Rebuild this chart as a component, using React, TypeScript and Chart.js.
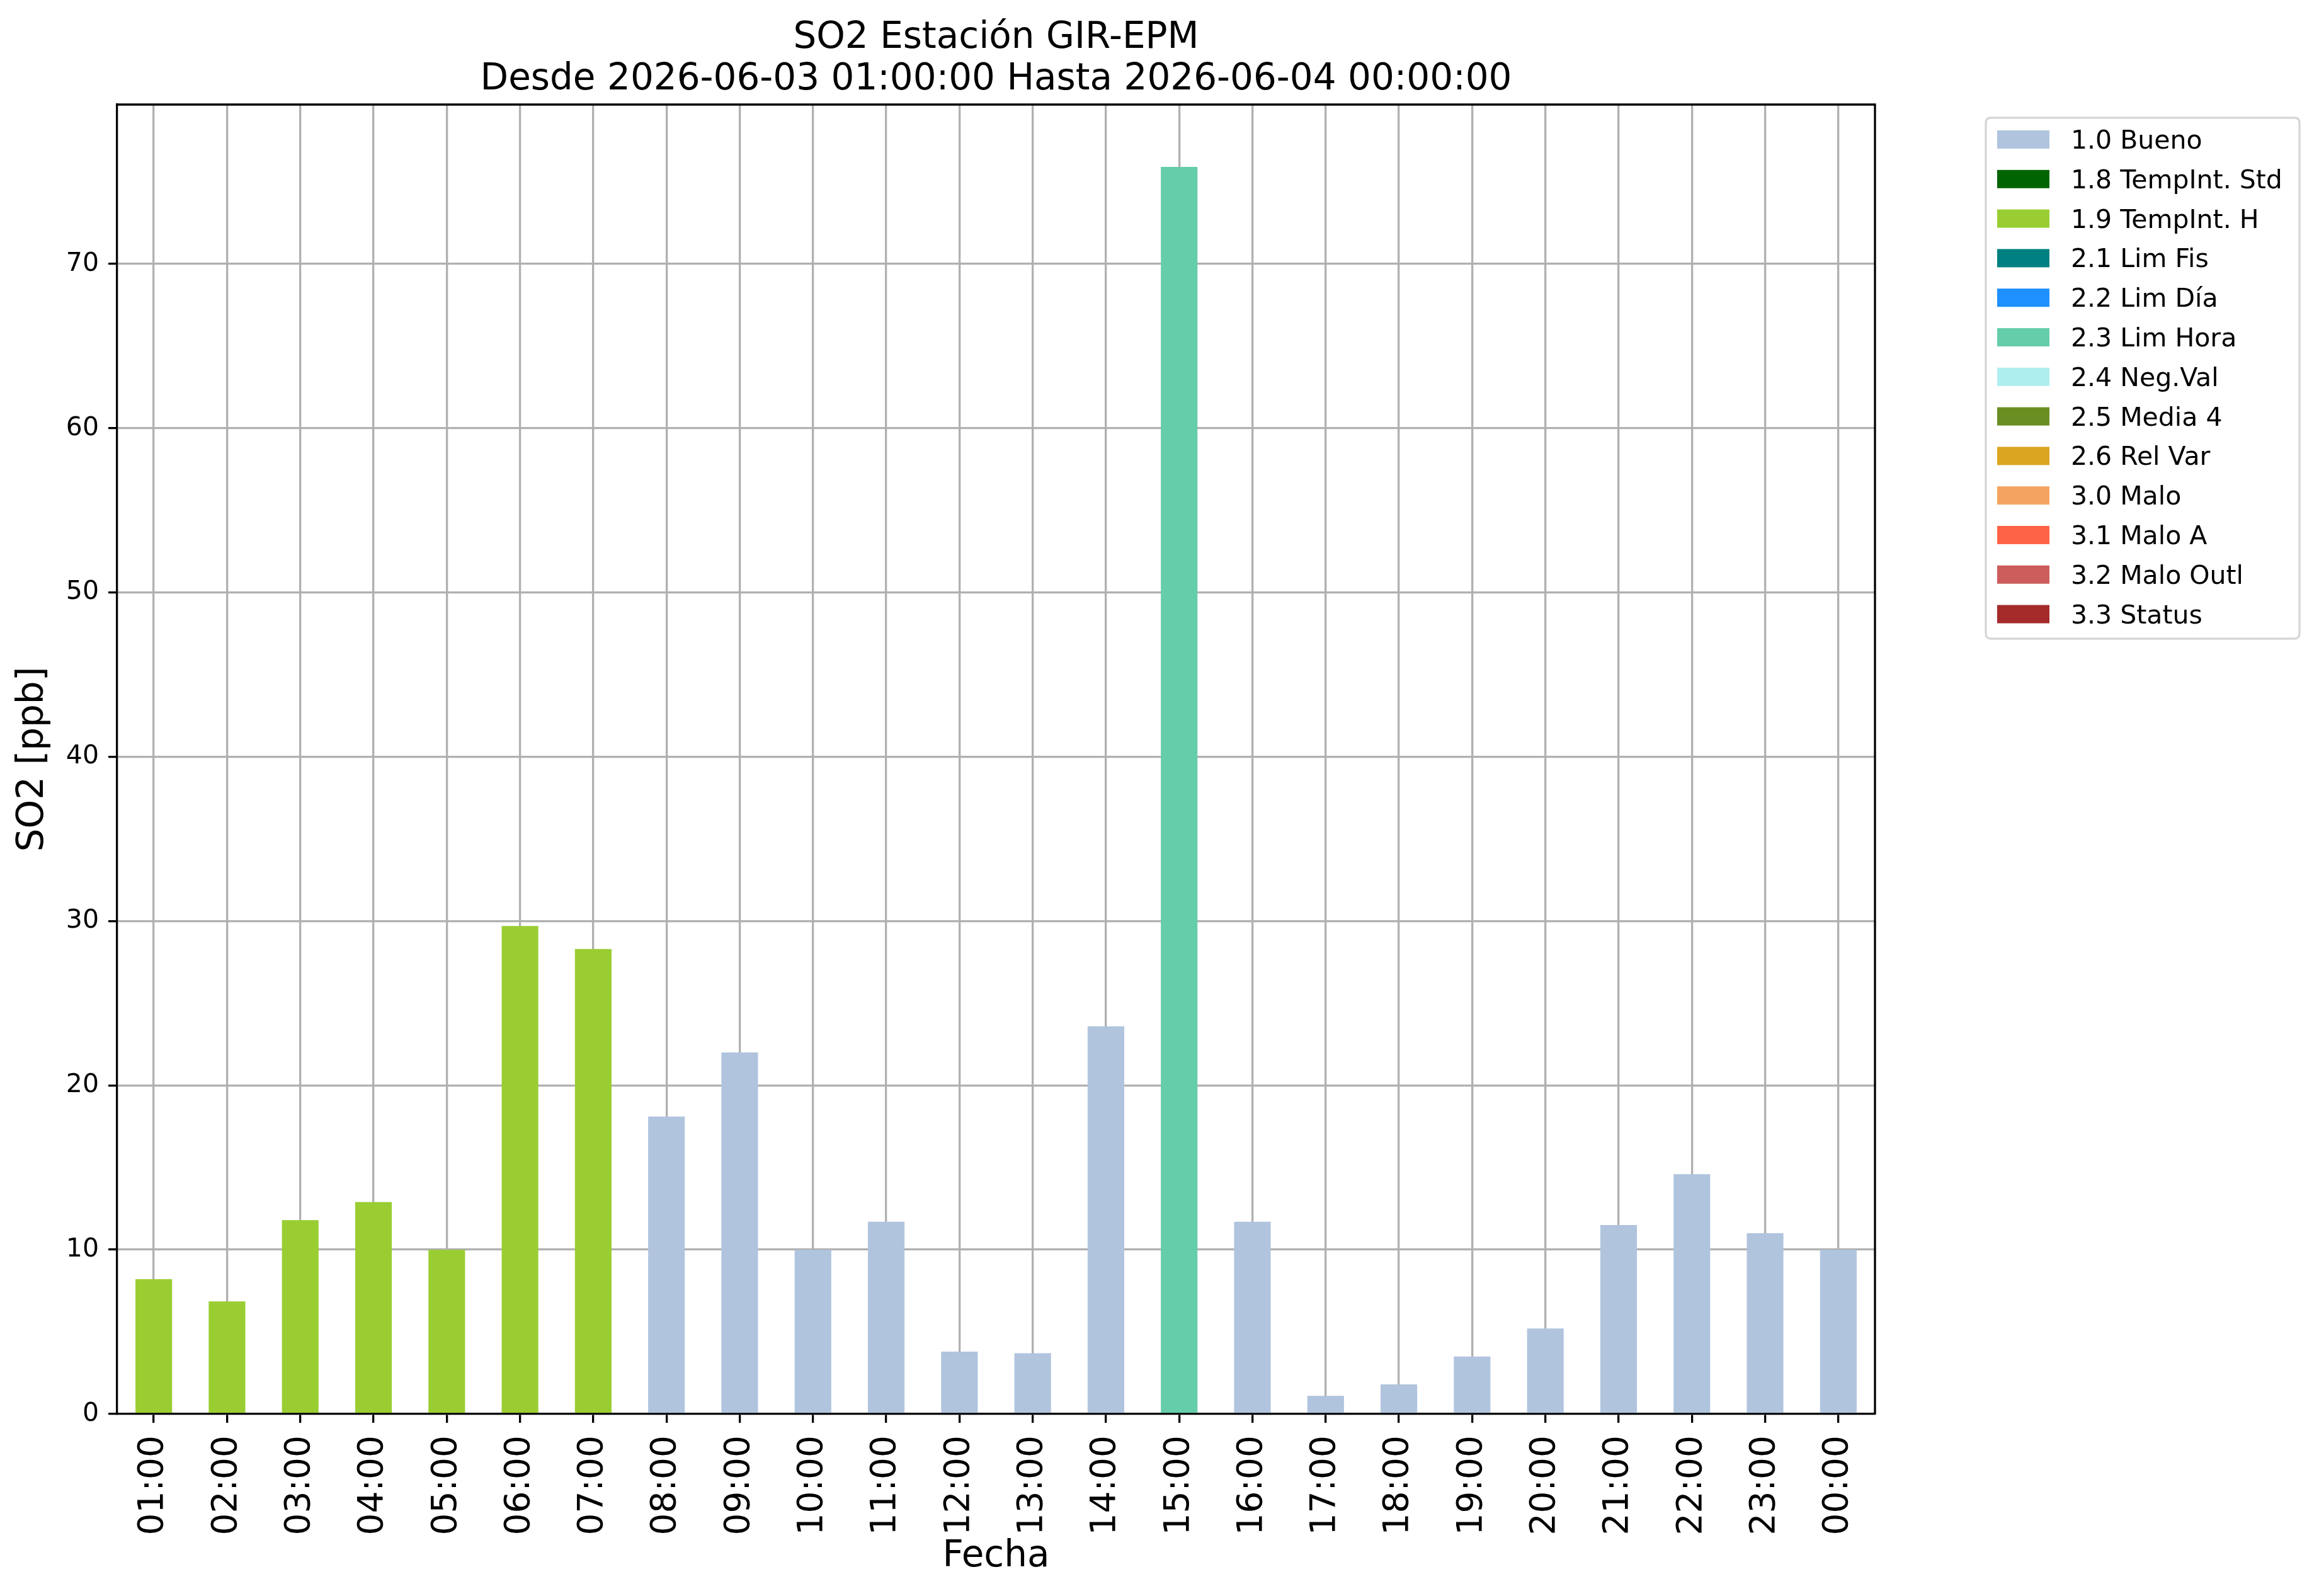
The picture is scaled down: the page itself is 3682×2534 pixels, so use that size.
import React, { useEffect, useRef } from "react";
import { Chart, registerables } from "chart.js";

Chart.register(...registerables);

const hours = [
  "01:00", "02:00", "03:00", "04:00", "05:00", "06:00", "07:00", "08:00",
  "09:00", "10:00", "11:00", "12:00", "13:00", "14:00", "15:00", "16:00",
  "17:00", "18:00", "19:00", "20:00", "21:00", "22:00", "23:00", "00:00",
];

const so2Values = [
  8.2, 6.85, 11.8, 12.9, 10.0, 29.7, 28.3, 18.1,
  22.0, 10.0, 11.7, 3.8, 3.7, 23.6, 75.9, 11.7,
  1.1, 1.8, 3.5, 5.2, 11.5, 14.6, 11.0, 10.0,
];

const hourFlags = [
  "1.9", "1.9", "1.9", "1.9", "1.9", "1.9", "1.9", "1.0",
  "1.0", "1.0", "1.0", "1.0", "1.0", "1.0", "2.3", "1.0",
  "1.0", "1.0", "1.0", "1.0", "1.0", "1.0", "1.0", "1.0",
];

const flagCodes = ["1.0", "1.8", "1.9", "2.1", "2.2", "2.3", "2.4", "2.5", "2.6", "3.0", "3.1", "3.2", "3.3"];
const flagLabels = [
  "1.0 Bueno", "1.8 TempInt. Std", "1.9 TempInt. H", "2.1 Lim Fis", "2.2 Lim Día",
  "2.3 Lim Hora", "2.4 Neg.Val", "2.5 Media 4", "2.6 Rel Var", "3.0 Malo",
  "3.1 Malo A", "3.2 Malo Outl", "3.3 Status",
];
const flagColors = [
  "#B0C4DE", "#006400", "#9ACD32", "#008080", "#1E90FF", "#66CDAA", "#AFEEEE",
  "#6B8E23", "#DAA520", "#F4A460", "#FF6347", "#CD5C5C", "#A52A2A",
];

const yTicks = [0, 10, 20, 30, 40, 50, 60, 70];
const yMax = 79.7;

const titleLines = ["SO2 Estación GIR-EPM", "Desde 2026-06-03 01:00:00 Hasta 2026-06-04 00:00:00"];
const yTitle = "SO2 [ppb]";
const xTitle = "Fecha";

const FONT = "'DejaVu Sans', sans-serif";

const decorPlugin = {
  id: "decor",
  afterDraw(chart: any) {
    const { ctx, chartArea } = chart;
    ctx.save();
    // top and right spines
    ctx.strokeStyle = "#000000";
    ctx.lineWidth = 3.3;
    ctx.beginPath();
    ctx.moveTo(chartArea.left, chartArea.top);
    ctx.lineTo(chartArea.right, chartArea.top);
    ctx.lineTo(chartArea.right, chartArea.bottom);
    ctx.stroke();

    // title
    ctx.fillStyle = "#000000";
    ctx.font = `58px ${FONT}`;
    ctx.textAlign = "center";
    ctx.textBaseline = "alphabetic";
    const cx = (chartArea.left + chartArea.right) / 2;
    ctx.fillText(titleLines[0], cx, 76);
    ctx.fillText(titleLines[1], cx, 142);

    // legend
    const bx = 3153, by = 187, bw = 498, bh = 827, r = 8;
    ctx.fillStyle = "rgba(255,255,255,0.8)";
    ctx.strokeStyle = "#d6d6d6";
    ctx.lineWidth = 3.3;
    ctx.beginPath();
    ctx.moveTo(bx + r, by);
    ctx.lineTo(bx + bw - r, by);
    ctx.quadraticCurveTo(bx + bw, by, bx + bw, by + r);
    ctx.lineTo(bx + bw, by + bh - r);
    ctx.quadraticCurveTo(bx + bw, by + bh, bx + bw - r, by + bh);
    ctx.lineTo(bx + r, by + bh);
    ctx.quadraticCurveTo(bx, by + bh, bx, by + bh - r);
    ctx.lineTo(bx, by + r);
    ctx.quadraticCurveTo(bx, by, bx + r, by);
    ctx.closePath();
    ctx.fill();
    ctx.stroke();

    ctx.font = `41px ${FONT}`;
    ctx.textAlign = "left";
    ctx.textBaseline = "alphabetic";
    chart.data.datasets.forEach((ds: any, i: number) => {
      const y = 207 + i * 62.8;
      ctx.fillStyle = ds.backgroundColor;
      ctx.fillRect(3171, y, 83, 29);
      ctx.fillStyle = "#000000";
      ctx.fillText(ds.label, 3288, y + 29);
    });
    ctx.restore();
  },
};

export default function App() {
  const canvasRef = useRef<HTMLCanvasElement | null>(null);

  useEffect(() => {
    document.body.style.margin = "0";
    const canvas = canvasRef.current;
    if (!canvas) return;

    const datasets = flagCodes.map((code, i) => ({
      label: flagLabels[i],
      data: so2Values.map((v, j) => (hourFlags[j] === code ? v : null)),
      backgroundColor: flagColors[i],
      borderWidth: 0,
      barPercentage: 0.5,
      categoryPercentage: 1.0,
    }));

    const chart = new Chart(canvas, {
      type: "bar",
      data: { labels: hours, datasets },
      plugins: [decorPlugin],
      options: {
        animation: false,
        responsive: true,
        maintainAspectRatio: false,
        devicePixelRatio: 1,
        layout: { padding: { left: 0, top: 166, right: 705, bottom: 0 } },
        plugins: {
          legend: { display: false },
          title: { display: false },
          tooltip: { enabled: false },
        },
        scales: {
          x: {
            stacked: true,
            z: 1,
            afterFit(scale: any) {
              scale.height = 289;
            },
            grid: {
              offset: false,
              color: "#b0b0b0",
              lineWidth: 3.3,
              tickColor: "#000000",
              tickWidth: 3.3,
              tickLength: 14,
            },
            border: { display: true, color: "#000000", width: 3.3 },
            ticks: {
              autoSkip: false,
              maxRotation: 90,
              minRotation: 90,
              padding: 20,
              color: "#000000",
              font: { family: FONT, size: 55 },
            },
            title: {
              display: true,
              text: xTitle,
              color: "#000000",
              font: { family: FONT, size: 58 },
              padding: { top: 0, bottom: 27 },
            },
          },
          y: {
            stacked: true,
            z: 1,
            min: 0,
            max: yMax,
            afterFit(scale: any) {
              scale.width = 186;
            },
            afterBuildTicks(scale: any) {
              scale.ticks = yTicks.map((v) => ({ value: v }));
            },
            grid: {
              color: "#b0b0b0",
              lineWidth: 3.3,
              tickColor: "#000000",
              tickWidth: 3.3,
              tickLength: 14,
            },
            border: { display: true, color: "#000000", width: 3.3 },
            ticks: {
              includeBounds: false,
              stepSize: 10,
              padding: 15,
              color: "#000000",
              font: { family: FONT, size: 41 },
            },
            title: {
              display: true,
              text: yTitle,
              color: "#000000",
              font: { family: FONT, size: 58 },
              padding: { top: 18, bottom: 0 },
            },
          },
        },
      } as any,
    });

    return () => chart.destroy();
  }, []);

  return (
    <div style={{ position: "fixed", left: 0, top: 0, width: 3682, height: 2534, background: "#ffffff" }}>
      <canvas ref={canvasRef} />
    </div>
  );
}
